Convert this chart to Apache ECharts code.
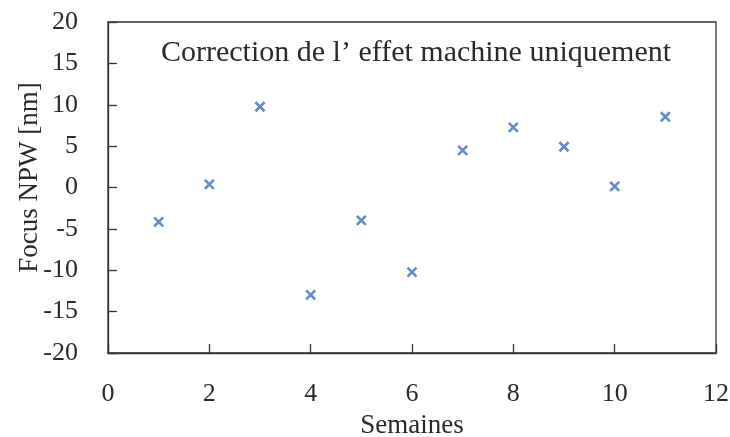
<!DOCTYPE html>
<html><head><meta charset="utf-8">
<script src="https://cdn.jsdelivr.net/npm/echarts@6/dist/echarts.min.js"></script>
<style>html,body{margin:0;padding:0;background:#fff}#c{width:730px;height:437px}</style>
</head><body><div id="c"></div>
<script>
const weeks = [1, 2, 3, 4, 5, 6, 7, 8, 9, 10, 11];
const focusNPW = [-4.15, 0.37, 9.76, -12.97, -3.98, -10.23, 4.49, 7.27, 4.92, 0.13, 8.55];
const titleText = "Correction de l’ effet machine uniquement";
const xName = "Semaines";
const yName = "Focus NPW [nm]";

const FONT = "'Liberation Serif', 'DejaVu Serif', serif";
const chart = echarts.init(document.getElementById('c'), null, {renderer: 'canvas'});
chart.setOption({
  animation: false,
  backgroundColor: '#fff',
  title: {
    text: titleText, left: 411, top: 33, textAlign: 'center',
    textStyle: {fontFamily: FONT, fontSize: 30, fontWeight: 'normal', color: '#2a2a2a'}
  },
  grid: {left: 108, top: 22, right: 14, bottom: 84, containLabel: false, outerBoundsMode: 'none',
         show: true, borderColor: '#333', borderWidth: 1.3, backgroundColor: 'transparent'},
  xAxis: {
    type: 'value', min: 0, max: 12, interval: 2,
    name: xName, nameLocation: 'middle', nameGap: 59, nameMoveOverlap: false,
    nameTextStyle: {fontFamily: FONT, fontSize: 27, color: '#2a2a2a'},
    axisLine: {show: true, onZero: false, lineStyle: {color: '#333', width: 1.3}},
    axisTick: {show: true, inside: true, length: 9, lineStyle: {color: '#333', width: 1.3}},
    axisLabel: {fontFamily: FONT, fontSize: 26, color: '#2a2a2a', margin: 28},
    splitLine: {show: false}
  },
  yAxis: {
    type: 'value', min: -20, max: 20, interval: 5,
    name: yName, nameLocation: 'middle', nameGap: 65, nameRotate: 90, nameMoveOverlap: false,
    nameTextStyle: {fontFamily: FONT, fontSize: 27, color: '#2a2a2a', padding: [0, 0, 0, 20]},
    axisLine: {show: true, onZero: false, lineStyle: {color: '#333', width: 1.3}},
    axisTick: {show: true, inside: true, length: 9, lineStyle: {color: '#333', width: 1.3}},
    axisLabel: {fontFamily: FONT, fontSize: 26, color: '#2a2a2a', margin: 30},
    splitLine: {show: false}
  },
  series: [{
    type: 'scatter',
    data: weeks.map((w, i) => [w, focusNPW[i]]),
    symbol: 'path://M0,0L10,10M10,0L0,10',
    symbolSize: 9,
    itemStyle: {color: 'none', borderColor: '#3A6FBF', borderWidth: 2.6}
  }]
});
</script></body></html>
